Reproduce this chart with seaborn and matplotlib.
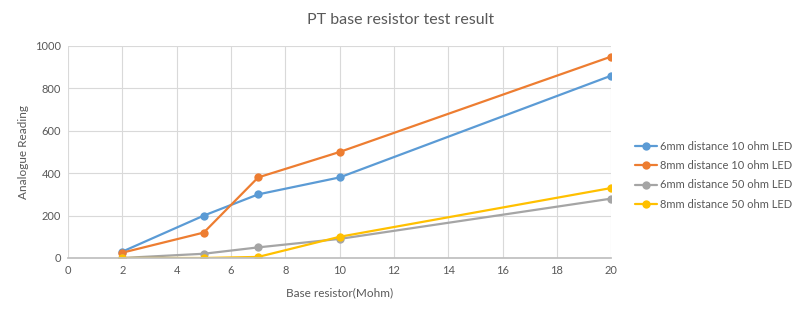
import matplotlib
matplotlib.use("Agg")
import matplotlib.pyplot as plt
import seaborn as sns
import pandas as pd

x_values = [2, 5, 7, 10, 20]
s6_10 = [30, 200, 300, 380, 860]
s8_10 = [25, 120, 380, 500, 950]
s6_50 = [0, 20, 50, 90, 280]
s8_50 = [0, 0, 5, 100, 330]
series_names = ["6mm distance 10 ohm LED", "8mm distance 10 ohm LED",
                "6mm distance 50 ohm LED", "8mm distance 50 ohm LED"]
colors = ["#5B9BD5", "#ED7D31", "#A5A5A5", "#FFC000"]

rows = []
for name, vals in zip(series_names, [s6_10, s8_10, s6_50, s8_50]):
    for xv, yv in zip(x_values, vals):
        rows.append({"x": xv, "y": yv, "series": name})
df = pd.DataFrame(rows)

sns.set_theme(style="white")
plt.rcParams['font.family'] = ['Lato', 'DejaVu Sans']

fig = plt.figure(figsize=(8, 3.15), dpi=100)
ax = fig.add_axes([0.085, 0.181, 0.679, 0.673])
sns.lineplot(data=df, x="x", y="y", hue="series", palette=colors,
             marker="o", markersize=6, markeredgewidth=0, linewidth=1.6,
             ax=ax, legend=True)

ax.set_xlim(0, 20)
ax.set_ylim(0, 1000)
ax.set_xticks(range(0, 21, 2))
ax.set_yticks(range(0, 1001, 200))
ax.grid(True, color="#D9D9D9", linewidth=0.8)
for s in ["top", "right", "left"]:
    ax.spines[s].set_visible(False)
ax.spines["bottom"].set_color("#BFBFBF")
ax.tick_params(axis="both", labelsize=8, colors="#595959", length=0, pad=5)
ax.set_xlabel("Base resistor(Mohm)", fontsize=8.5, color="#595959", labelpad=8)
ax.set_ylabel("Analogue Reading", fontsize=8.5, color="#595959", labelpad=4)
ax.set_title("PT base resistor test result", fontsize=11.5, color="#595959", pad=16, x=0.613)

leg = ax.legend(loc="center left", bbox_to_anchor=(1.025, 0.39), frameon=False,
                fontsize=8, handlelength=2.0, handletextpad=0.3, labelspacing=0.75)
for t in leg.get_texts():
    t.set_color("#595959")

fig.savefig("out.png", dpi=100)
